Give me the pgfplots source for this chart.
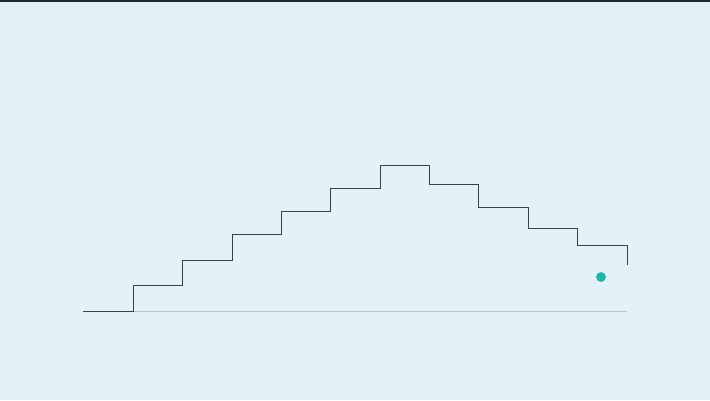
\documentclass[border=0pt]{standalone}
\usepackage{pgfplots}
\pgfplotsset{compat=1.18}
\definecolor{bg}{RGB}{227,241,249}
\definecolor{stepc}{RGB}{55,66,74}
\definecolor{basec}{RGB}{184,198,206}
\definecolor{dotc}{RGB}{32,180,168}
\definecolor{topc}{RGB}{30,42,46}
\begin{document}
\begin{tikzpicture}
\begin{axis}[
  scale only axis, width=710pt, height=400pt,
  xmin=0, xmax=710, ymin=0, ymax=400,
  axis lines=none, ticks=none,
  axis background/.style={fill=bg},
  clip=true,
]
% top border
\addplot[topc, line width=3.5pt] coordinates {(0,400) (710,400)};
% baseline
\addplot[basec, line width=0.9pt] coordinates {(83,89) (627,89)};
% step line
\addplot[stepc, line width=0.95pt, const plot mark left, line join=miter] coordinates {
(83,89) (133,115) (182,140) (232,166) (281,189) (330,212) (380,235)
(429,216) (478,193) (528,172) (577,155) (627,135)};
% dot
\addplot[only marks, mark=*, mark size=4.7pt, dotc, mark options={draw=dotc, fill=dotc}] coordinates {(601,123)};
\end{axis}
\end{tikzpicture}
\end{document}
